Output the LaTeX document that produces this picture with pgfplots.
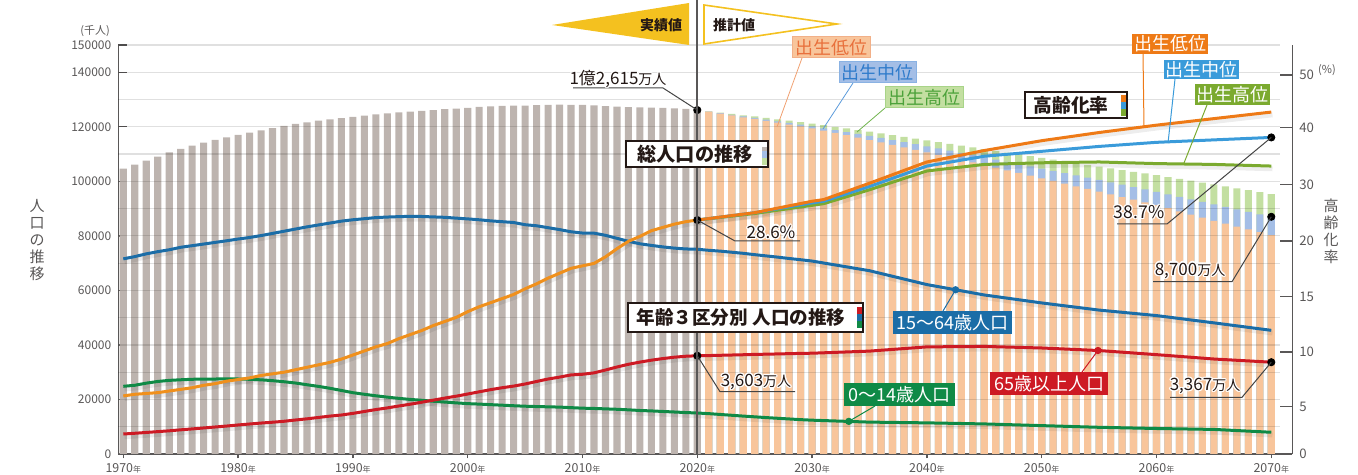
\documentclass[border=0pt]{standalone}
\usepackage{fontspec}
\setmainfont{Noto Sans CJK JP}
\usepackage{pgfplots}
\pgfplotsset{compat=1.18}
\usepackage{pgfplotstable}
\definecolor{barGray}{HTML}{BDB4AF}
\definecolor{barPeach}{HTML}{F8C59B}
\definecolor{barBlue}{HTML}{A4BEE6}
\definecolor{barGreen}{HTML}{C3DFA1}
\definecolor{cWork}{HTML}{1B6DA7}
\definecolor{cChild}{HTML}{0F8A46}
\definecolor{cOld}{HTML}{CD1A24}
\definecolor{cAct}{HTML}{F0901C}
\definecolor{cLow}{HTML}{EE7A16}
\definecolor{cMid}{HTML}{3A9BDA}
\definecolor{cHigh}{HTML}{7BAA2F}
\definecolor{cFlag}{HTML}{F4C11F}
\definecolor{axisGray}{HTML}{595757}
\definecolor{txt}{HTML}{231815}
\definecolor{leadGray}{HTML}{444444}
\definecolor{lpLine}{HTML}{F0A070}
\definecolor{lbLine}{HTML}{5C9BDB}
\definecolor{lgLine}{HTML}{6DB24A}
\definecolor{lpBorder}{HTML}{F2B088}
\definecolor{lbBorder}{HTML}{8AB2E3}
\definecolor{lgBorder}{HTML}{A8D488}
\definecolor{lpText}{HTML}{E8703C}
\definecolor{lbText}{HTML}{2F7BCB}
\definecolor{lgText}{HTML}{4CA23A}
\newcommand\fz[1]{\fontsize{#1}{#1}\selectfont}
\newcommand\yr[1]{#1{\fz{4}年}}
\newcommand\halo[3]{\foreach \hang in {0,45,...,315}{\node[#2,text=white] at ([shift={(\hang:0.7pt)}]#1) {#3};}\node[#2] at (#1) {#3};}

\pgfplotstableread{
year total
1970 104665
1971 106100
1972 107595
1973 109104
1974 110573
1975 111940
1976 113094
1977 114165
1978 115190
1979 116155
1980 117060
1981 117902
1982 118728
1983 119536
1984 120305
1985 121049
1986 121660
1987 122239
1988 122745
1989 123205
1990 123611
1991 124101
1992 124567
1993 124938
1994 125265
1995 125570
1996 125859
1997 126157
1998 126472
1999 126667
2000 126926
2001 127316
2002 127486
2003 127694
2004 127787
2005 127768
2006 127901
2007 128033
2008 128084
2009 128032
2010 128057
2011 127834
2012 127593
2013 127414
2014 127237
2015 127095
2016 127042
2017 126919
2018 126749
2019 126555
2020 126146
}\actualtotal

\pgfplotstableread{
year low mid high
2021 125550 125600 125650
2022 124860 125000 125175
2023 124175 124400 124700
2024 123488 123800 124225
2025 122862 123262 123812
2026 122190 122650 123290
2027 121510 122030 122760
2028 120820 121400 122220
2029 120120 120760 121670
2030 119416 120116 121116
2031 118600 119460 120570
2032 117760 118780 120000
2033 116900 118080 119410
2034 116030 117370 118810
2035 115139 116639 118189
2036 114260 115900 117580
2037 113370 115150 116960
2038 112470 114390 116330
2039 111560 113620 115690
2040 110637 112837 115037
2041 109720 112040 114400
2042 108800 111240 113760
2043 107870 110430 113110
2044 106940 109620 112460
2045 106001 108801 111801
2046 105020 107980 111160
2047 104040 107160 110520
2048 103060 106340 109880
2049 102070 105510 109230
2050 101086 104686 108586
2051 100120 103860 107950
2052 99150 103030 107310
2053 98180 102200 106670
2054 97200 101360 106020
2055 96208 100508 105358
2056 95230 99640 104740
2057 94250 98770 104120
2058 93270 97900 103500
2059 92290 97030 102880
2060 91298 96148 102248
2061 90140 95240 101580
2062 88980 94330 100910
2063 87820 93420 100240
2064 86650 92500 99560
2065 85487 91587 98887
2066 84450 90670 98170
2067 83410 89750 97450
2068 82370 88830 96730
2069 81330 87910 96010
2070 80296 86996 95296
}\projtotal

\pgfplotstableread{
year c w o
1970 24823 71566 7331
1971 25203 72400 7600
1972 25980 73400 7900
1973 26600 74200 8200
1974 27000 74900 8500
1975 27221 75807 8865
1976 27400 76400 9200
1977 27500 77000 9550
1978 27500 77600 9900
1979 27550 78200 10250
1980 27507 78835 10647
1981 27400 79400 11000
1982 27200 80100 11350
1983 26900 80900 11650
1984 26500 81700 12000
1985 26033 82506 12468
1986 25400 83300 12900
1987 24800 84000 13400
1988 24100 84700 13900
1989 23300 85400 14300
1990 22486 85904 14895
1991 21900 86300 15600
1992 21350 86700 16300
1993 20850 86900 16900
1994 20400 87050 17600
1995 20014 87165 18261
1996 19700 87100 19000
1997 19350 86950 19750
1998 19050 86800 20500
1999 18750 86500 21200
2000 18472 86220 22005
2001 18300 85900 22800
2002 18100 85500 23600
2003 17900 85200 24300
2004 17700 84900 24900
2005 17521 84092 25672
2006 17400 83700 26600
2007 17300 83000 27500
2008 17200 82300 28200
2009 17000 81500 29000
2010 16803 81032 29246
2011 16700 81000 29750
2012 16550 80200 30800
2013 16400 79100 31900
2014 16200 78000 32900
2015 15950 77100 33700
2016 15800 76500 34400
2017 15600 75950 35000
2018 15400 75500 35500
2019 15200 75200 35850
2020 15032 75088 36027
2021 14800 74700 36100
2022 14500 74400 36200
2023 14200 74000 36300
2024 13900 73600 36400
2025 13633 73101 36529
2026 13350 72650 36600
2027 13100 72200 36700
2028 12850 71700 36800
2029 12600 71250 36900
2030 12397 70757 36962
2035 11691 67216 37732
2040 11419 62133 39285
2045 11027 58323 39451
2050 10406 55402 38878
2055 9789 52778 37941
2060 9351 50762 36437
2065 9011 48093 34834
2070 7975 45350 33671
}\agegroups

\pgfplotstableread{
year rate
1970 7.1
1971 7.3
1972 7.4
1973 7.5
1974 7.7
1975 7.9
1976 8.1
1977 8.4
1978 8.6
1979 8.9
1980 9.1
1981 9.3
1982 9.6
1983 9.8
1984 10.0
1985 10.3
1986 10.6
1987 10.9
1988 11.2
1989 11.6
1990 12.1
1991 12.6
1992 13.1
1993 13.5
1994 14.1
1995 14.6
1996 15.1
1997 15.7
1998 16.2
1999 16.7
2000 17.4
2001 18.0
2002 18.5
2003 19.0
2004 19.5
2005 20.2
2006 20.8
2007 21.5
2008 22.1
2009 22.7
2010 23.0
2011 23.3
2012 24.1
2013 25.1
2014 26.0
2015 26.6
2016 27.3
2017 27.7
2018 28.1
2019 28.4
2020 28.6
}\agingact

\pgfplotstableread{
year low mid high
2020 28.6 28.6 28.6
2025 29.5 29.5 29.4
2030 30.9 30.7 30.4
2031 31.1 30.9 30.6
2035 33.1 32.7 32.3
2040 35.7 35.2 34.6
2045 37.1 36.4 35.4
2050 38.3 37.0 35.6
2055 39.3 37.6 35.7
2060 40.2 38.1 35.5
2065 41.0 38.4 35.4
2070 41.8 38.7 35.2
}\agingproj

\begin{document}
\begin{tikzpicture}
\useasboundingbox (0,0) rectangle (679pt,237.5pt);
\pgfplotsset{
  shadowline/.style={black, opacity=0.07, line width=2.4pt, transform canvas={xshift=0.6pt,yshift=-1.4pt}},
  dataline/.style={line width=1.5pt, line join=round},
}
% main axis
\begin{axis}[
  at={(59.15pt,10.5pt)}, anchor=south west,
  scale only axis, width=580.85pt, height=204.5pt,
  xmin=1969.564, xmax=2070.76, ymin=0, ymax=150000,
  axis x line*=bottom, axis y line*=left,
  x axis line style={-, axisGray, line width=0.8pt},
  y axis line style={-, axisGray, line width=0.8pt},
  xtick={1970,1980,...,2070},
  xticklabels={\yr{1970},\yr{1980},\yr{1990},\yr{2000},\yr{2010},\yr{2020},\yr{2030},\yr{2040},\yr{2050},\yr{2060},\yr{2070}},
  ytick={0,20000,40000,60000,80000,100000,120000,140000,150000},
  yticklabels={0,20000,40000,60000,80000,100000,120000,140000,150000},
  scaled y ticks=false, scaled x ticks=false,
  tick align=inside, major tick length=4.5pt,
  xtick style={axisGray, line width=0.7pt, yshift=-2.25pt},
  ytick style={axisGray, line width=0.7pt},
  x tick label style={font=\fz{6.2}, text=axisGray, yshift=-1pt},
  y tick label style={font=\fz{6}, text=axisGray},
  /pgf/number format/assume math mode=true,
  clip=false,
]
\addplot[ybar, bar width=0.62, bar shift=0pt, fill=barGray, draw=none] table[x=year,y=total]{\actualtotal};
\addplot[ybar, bar width=0.62, bar shift=0pt, fill=barGreen, draw=none] table[x=year,y=high]{\projtotal};
\addplot[ybar, bar width=0.62, bar shift=0pt, fill=barBlue, draw=none] table[x=year,y=mid]{\projtotal};
\addplot[ybar, bar width=0.62, bar shift=0pt, fill=barPeach, draw=none] table[x=year,y=low]{\projtotal};
\pgfplotsinvokeforeach{1,...,15}{
  \draw[black, opacity=0.12, line width=0.6pt] (axis cs:1969.564,#10000) -- (axis cs:2070.76,#10000);
}
% shadows
\addplot[shadowline] table[x=year,y=c]{\agegroups};
\addplot[shadowline] table[x=year,y=w]{\agegroups};
\addplot[shadowline] table[x=year,y=o]{\agegroups};
\addplot[shadowline] table[x=year,y expr=\thisrow{rate}*3000]{\agingact};
\addplot[shadowline] table[x=year,y expr=\thisrow{high}*3000]{\agingproj};
\addplot[shadowline] table[x=year,y expr=\thisrow{low}*3000]{\agingproj};
% lines
\addplot[dataline, cChild] table[x=year,y=c]{\agegroups};
\addplot[dataline, cWork] table[x=year,y=w]{\agegroups};
\addplot[dataline, cOld] table[x=year,y=o]{\agegroups};
\addplot[dataline, cAct] table[x=year,y expr=\thisrow{rate}*3000]{\agingact};
\addplot[dataline, cHigh] table[x=year,y expr=\thisrow{high}*3000]{\agingproj};
\addplot[dataline, cMid] table[x=year,y expr=\thisrow{mid}*3000]{\agingproj};
\addplot[dataline, cLow] table[x=year,y expr=\thisrow{low}*3000]{\agingproj};
% dots
\addplot[only marks, mark=*, mark size=1.8pt, black] coordinates {(2020,126146) (2020,36027) (2070,86996) (2070,33671)};
\addplot[only marks, mark=*, mark size=1.8pt, black] table[x=year, y expr=\thisrow{rate}*3000, row sep=\\] {year rate \\ 2020 28.6 \\ 2070 38.7 \\};
\addplot[only marks, mark=*, mark size=1.6pt, cWork] coordinates {(2042.5,60230)};
\addplot[only marks, mark=*, mark size=1.6pt, cChild] coordinates {(2033.2,11970)};
\addplot[only marks, mark=*, mark size=1.6pt, cOld] coordinates {(2054.9,37960)};
\coordinate (dTot) at (axis cs:2020,126146);
\coordinate (dOld20) at (axis cs:2020,36027);
\coordinate (dAge20) at (axis cs:2020,85800);
\coordinate (dAge70) at (axis cs:2070,116100);
\coordinate (dTot70) at (axis cs:2070,86996);
\coordinate (dOld70) at (axis cs:2070,33671);
\coordinate (dWork) at (axis cs:2042.5,60230);
\coordinate (dChild) at (axis cs:2033.2,11970);
\coordinate (dOldc) at (axis cs:2054.9,37960);
\end{axis}
% right axis
\begin{axis}[
  at={(59.15pt,10.5pt)}, anchor=south west,
  scale only axis, width=587pt, height=204.5pt,
  xmin=0, xmax=1, ymin=0, ymax=150000,
  axis x line=none, axis y line*=right,
  y axis line style={-, axisGray, line width=0.8pt},
  ytick={0,17345,37404,57682,78108,98900,119655,138980},
  yticklabels={0,5,10,15,20,30,40,50},
  scaled y ticks=false,
  tick align=inside, major tick length=6pt,
  ytick style={axisGray, line width=0.7pt},
  y tick label style={font=\fz{6.6}, text=axisGray},
  /pgf/number format/assume math mode=true,
]
\addplot[draw=none] coordinates {(0,0)};
\end{axis}

\begin{scope}[x=0.5pt,y=-0.5pt,shift={(0pt,237.5pt)}]
% 2020 divider
\draw[axisGray, line width=0.8pt] (696.7,0) -- (696.7,454);
% flags
\fill[cFlag] (552,25) -- (689,3) -- (689,45) -- cycle;
\draw[cFlag, line width=0.8pt, fill=white] (704,5) -- (837,24) -- (704,44) -- cycle;
\node[font=\fz{7}\bfseries, text=txt] at (661,25) {実績値};
\node[font=\fz{7}\bfseries, text=txt] at (734,25) {推計値};
% axis texts
\node[font=\fz{5.5}, text=axisGray] at (95,31) {(千人)};
\node[font=\fz{5.5}, text=axisGray] at (1327,70) {(\%)};
\node[font=\fz{7.5}, text=axisGray, align=center, inner sep=0pt] at (37,240) {人\\[0.95pt]口\\[0.95pt]の\\[0.95pt]推\\[0.95pt]移};
\node[font=\fz{7.5}, text=axisGray, align=center, inner sep=0pt] at (1331,231.5) {高\\[0.95pt]齢\\[0.95pt]化\\[0.95pt]率};
% title boxes
\draw[txt, line width=0.8pt, fill=white] (626,141) rectangle (768,167);
\node[font=\fz{9.6}\bfseries, text=txt] at (695,154) {総人口の推移};
\fill[barGray] (762,147) rectangle (766.5,151);
\fill[barBlue] (762,151) rectangle (766.5,158);
\fill[barGreen] (762,158) rectangle (766.5,165);
\draw[txt, line width=0.8pt, fill=white] (1025,92) rectangle (1127,118);
\node[font=\fz{9.4}\bfseries, text=txt] at (1071,105) {高齢化率};
\fill[cLow] (1121,95) rectangle (1125.5,102);
\fill[cMid] (1121,102) rectangle (1125.5,109);
\fill[cHigh] (1121,109) rectangle (1125.5,116);
\draw[txt, line width=0.8pt, fill=white] (628,303) rectangle (863,332);
\node[font=\fz{9.3}\bfseries, text=txt] at (741,317.5) {年齢３区分別 人口の推移};
\fill[cOld] (857,307) rectangle (861.5,314);
\fill[cWork] (857,314) rectangle (861.5,321);
\fill[cChild] (857,321) rectangle (861.5,328);
% light projection labels (total population)
\draw[lpLine, line width=0.4pt] (802,58) -- (777,127);
\draw[lbLine, line width=0.4pt] (853,83) -- (823,129);
\draw[lgLine, line width=0.4pt] (885,108) -- (857,132);
\draw[lpBorder, fill=barPeach, line width=0.5pt] (792,37) rectangle (870,58);
\node[font=\fz{9}, text=lpText] at (831,47.5) {出生低位};
\draw[lbBorder, fill=barBlue, line width=0.5pt] (839,62) rectangle (916,83);
\node[font=\fz{9}, text=lbText] at (877.5,72.5) {出生中位};
\draw[lgBorder, fill=barGreen, line width=0.5pt] (885,87) rectangle (963,108);
\node[font=\fz{9}, text=lgText] at (924,97.5) {出生高位};
% strong projection labels (aging rate)
\draw[cLow, line width=0.5pt] (1143,54) -- (1144,128);
\draw[cMid, line width=0.5pt] (1175,79) -- (1168,143);
\draw[cHigh, line width=0.5pt] (1207,105) -- (1184,163);
\fill[cLow] (1132,34) rectangle (1208,54);
\node[font=\fz{9}, text=white] at (1170,44) {出生低位};
\fill[cMid] (1164,60) rectangle (1239,79);
\node[font=\fz{9}, text=white] at (1201.5,69.5) {出生中位};
\fill[cHigh] (1195,84) rectangle (1270,105);
\node[font=\fz{9}, text=white] at (1232.5,94.5) {出生高位};
% age group labels
\draw[cWork, line width=0.5pt] (dWork) -- (943,311);
\draw[cChild, line width=0.5pt] (dChild) -- (875,406);
\draw[cOld, line width=0.5pt] (dOldc) -- (1082,372);
\fill[cWork] (893,311) rectangle (1012,334);
\node[font=\fz{9}, text=white] at (952.5,322.5) {15〜64歳人口};
\fill[cChild] (844,383) rectangle (955,406);
\node[font=\fz{9}, text=white] at (899.5,394.5) {0〜14歳人口};
\fill[cOld] (990,372) rectangle (1108,395);
\node[font=\fz{9}, text=white] at (1049,383.5) {65歳以上人口};
% value callouts
\draw[leadGray, line width=0.5pt] (573,88) -- (663,88) -- (dTot);
\halo{618,79}{font=\fz{8.5}, text=txt, inner sep=0pt}{1億2,615{\fz{7}万人}}
\draw[leadGray, line width=0.5pt] (dAge20) -- (735,241) -- (800,241);
\halo{771,232}{font=\fz{8.5}, text=txt, inner sep=0pt}{28.6\%}
\draw[leadGray, line width=0.5pt] (dOld20) -- (720,391.7) -- (795,391.7);
\halo{756,382}{font=\fz{8.5}, text=txt, inner sep=0pt}{3,603{\fz{7}万人}}
\draw[leadGray, line width=0.5pt] (1117,224) -- (1167,224) -- (dAge70);
\halo{1139,212}{font=\fz{8.8}, text=txt, inner sep=0pt}{38.7\%}
\draw[leadGray, line width=0.5pt] (1153,281.7) -- (1232,281.7) -- (dTot70);
\halo{1190,270.5}{font=\fz{8.5}, text=txt, inner sep=0pt}{8,700{\fz{7}万人}}
\draw[leadGray, line width=0.5pt] (1170,397.3) -- (1242,397.3) -- (dOld70);
\halo{1205,386}{font=\fz{8.5}, text=txt, inner sep=0pt}{3,367{\fz{7}万人}}
\end{scope}
\end{tikzpicture}
\end{document}
